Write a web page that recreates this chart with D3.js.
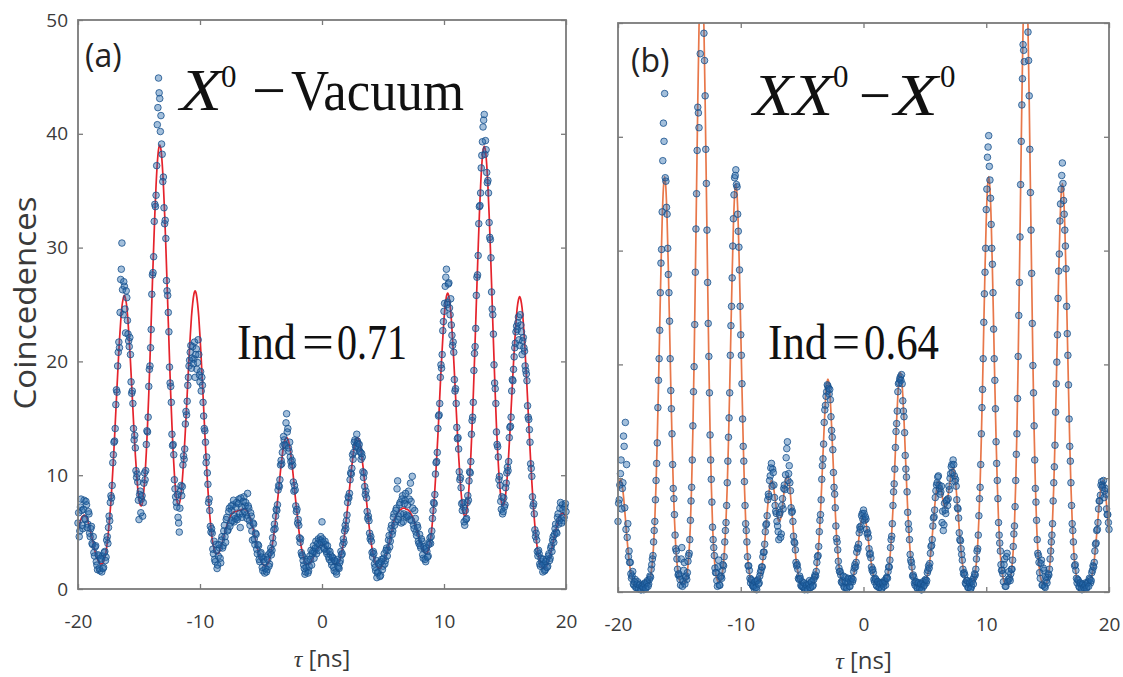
<!DOCTYPE html>
<html>
<head>
<meta charset="utf-8">
<script src="https://cdn.jsdelivr.net/npm/d3@7"></script>
<style>
  body { margin: 0; background: #fff; }
  svg { display: block; }
</style>
</head>
<body>
<svg id="chart" width="1123" height="677"></svg>
<script>
// one value per 0.1 ns, tau from -20 to 20 ns (401 values);
// the second run of each panel sits half a bin later (-19.95 ... 19.95, 400 values)
var tauStart = -20, tauStep = 0.1, tauStart2 = -19.95;

// (a) X0 - Vacuum : fit curve
var fitA = [
  5.2,5.6,6.0,6.3,6.4,6.5,6.4,6.3,6.0,5.6,        // -20
  5.2,4.7,4.3,3.8,3.3,2.9,2.6,2.4,2.2,2.2,        // -19
  2.2,2.4,2.8,3.3,4.1,5.1,6.3,7.7,9.4,11.3,       // -18
  13.4,15.6,17.8,19.9,21.9,23.5,24.8,25.5,25.8,25.5, // -17
  24.8,23.5,21.9,20.0,17.9,15.8,13.7,11.8,10.2,8.8,  // -16
  7.9,7.4,7.3,7.7,8.7,10.1,12.0,14.4,17.1,20.2,   // -15
  23.5,26.9,30.0,33.0,35.5,37.4,38.6,39.0,38.6,37.4, // -14
  35.5,33.0,30.1,26.9,23.5,20.2,17.1,14.4,12.0,10.1, // -13
  8.7,7.8,7.4,7.5,8.0,8.9,10.3,12.0,13.9,16.0,    // -12
  18.2,20.3,22.2,23.9,25.1,25.9,26.2,25.9,25.1,23.9, // -11
  22.2,20.2,18.1,15.9,13.6,11.5,9.6,7.9,6.5,5.4,  // -10
  4.4,3.8,3.4,3.1,3.1,3.1,3.3,3.6,4.0,4.4,        // -9
  4.8,5.2,5.6,5.9,6.2,6.4,6.6,6.7,6.8,6.8,        // -8
  6.8,6.9,6.9,6.9,7.0,7.0,7.0,7.0,6.9,6.8,        // -7
  6.6,6.3,5.9,5.5,5.1,4.6,4.1,3.6,3.2,2.8,        // -6
  2.5,2.3,2.1,2.0,2.0,2.1,2.3,2.6,3.1,3.7,        // -5
  4.4,5.2,6.1,7.2,8.2,9.3,10.4,11.3,12.2,12.8,    // -4
  13.2,13.3,13.2,12.8,12.2,11.3,10.4,9.3,8.2,7.2, // -3
  6.2,5.2,4.4,3.7,3.2,2.7,2.4,2.2,2.2,2.2,        // -2
  2.2,2.4,2.6,2.8,3.0,3.2,3.5,3.6,3.8,3.9,        // -1
  3.9,3.9,3.8,3.6,3.5,3.2,3.0,2.8,2.6,2.4,        // 0
  2.2,2.2,2.2,2.2,2.4,2.7,3.2,3.7,4.4,5.2,        // 1
  6.2,7.2,8.2,9.3,10.4,11.3,12.2,12.8,13.2,13.3,  // 2
  13.2,12.8,12.2,11.3,10.4,9.3,8.2,7.2,6.1,5.2,   // 3
  4.3,3.6,3.0,2.6,2.2,2.0,1.9,1.8,1.8,2.0,        // 4
  2.2,2.4,2.8,3.1,3.6,4.0,4.5,5.0,5.5,6.0,        // 5
  6.3,6.5,6.7,6.8,7.0,7.0,7.1,7.1,7.1,7.0,        // 6
  7.0,6.9,6.8,6.6,6.4,6.2,5.8,5.5,5.1,4.7,        // 7
  4.3,4.0,3.7,3.4,3.2,3.1,3.1,3.4,3.8,4.4,        // 8
  5.3,6.5,7.9,9.6,11.5,13.5,15.7,18.0,20.1,22.0,  // 9
  23.7,24.9,25.7,26.0,25.7,24.9,23.7,22.0,20.1,18.0, // 10
  15.8,13.7,11.7,10.0,8.5,7.4,6.7,6.4,6.5,7.1,    // 11
  8.2,9.8,11.7,14.2,17.0,20.1,23.4,26.7,29.9,32.9, // 12
  35.4,37.3,38.5,38.9,38.5,37.3,35.4,32.9,30.0,26.8, // 13
  23.4,20.2,17.1,14.3,12.0,10.1,8.7,7.7,7.3,7.4,  // 14
  7.9,8.8,10.1,11.8,13.7,15.8,17.9,19.9,21.8,23.4, // 15
  24.7,25.4,25.7,25.4,24.7,23.4,21.8,19.8,17.8,15.6, // 16
  13.4,11.3,9.4,7.7,6.2,5.0,4.0,3.2,2.7,2.3,      // 17
  2.0,1.8,1.8,1.9,2.0,2.3,2.6,3.0,3.4,3.9,        // 18
  4.4,4.9,5.3,5.8,6.2,6.5,6.6,6.7,6.6,6.5,        // 19
  6.2                                             // 20
];

// (a) measured coincidences, run 1
var dataA = [
  5.8,4.6,7.2,6.9,5.3,7.8,6.1,7.4,5.7,6.6,
  4.6,5.5,3.9,3.2,3.7,2.4,1.7,2.9,1.6,2.6,
  2.9,1.9,3.3,2.8,4.6,5.4,6.0,8.2,9.1,11.8,
  13.0,16.2,17.3,20.8,21.2,27.2,30.4,24.1,26.6,22.5,
  25.6,22.4,21.3,20.6,17.2,16.3,13.1,12.4,9.8,9.4,
  6.1,8.6,7.9,6.4,9.3,9.6,12.7,13.8,17.8,19.6,
  22.8,27.6,29.2,33.8,34.6,40.8,44.9,43.1,41.6,38.2,
  36.2,32.1,30.8,26.2,24.3,19.5,17.8,13.6,12.7,9.6,
  8.1,7.2,6.3,5.0,8.6,8.2,10.9,11.4,14.5,15.3,
  17.9,19.6,20.8,19.4,21.3,20.2,18.6,21.1,19.9,20.6,
  18.2,17.4,17.9,15.2,13.9,11.1,10.2,7.6,6.9,5.0,
  4.9,3.1,2.6,3.9,1.8,2.9,3.6,2.3,4.6,3.8,
  5.6,4.1,6.3,5.2,7.1,5.8,6.9,7.4,5.9,6.2,
  7.6,6.3,7.9,5.4,7.2,6.6,8.1,7.3,6.5,8.4,
  7.1,5.6,6.4,4.3,5.7,3.9,4.8,3.1,3.8,2.4,
  3.2,1.9,2.6,1.4,2.8,1.7,3.0,2.2,3.6,3.4,
  4.0,5.7,6.4,6.9,8.7,9.0,10.9,11.0,12.6,13.1,
  12.6,15.4,14.1,12.1,11.6,10.8,10.9,8.6,8.7,6.8,
  5.8,5.6,4.1,3.2,2.9,2.1,1.3,1.9,2.6,1.6,
  2.9,3.4,3.1,3.8,3.3,4.2,3.6,4.4,3.9,4.6,
  5.9,4.1,3.5,3.9,3.1,3.4,2.6,3.0,2.1,2.7,
  1.6,2.4,1.3,2.0,1.8,2.5,3.0,3.9,4.1,5.6,
  6.0,7.6,8.0,9.6,10.1,11.8,12.0,13.1,12.6,13.0,
  12.4,12.1,11.4,11.6,9.8,9.0,8.6,6.8,6.4,4.9,
  4.6,3.2,3.3,2.2,1.6,1.0,1.5,2.3,1.2,2.6,
  2.0,3.1,2.5,3.6,3.4,4.7,4.2,5.6,5.1,6.6,
  5.9,7.1,9.5,6.4,7.6,5.8,8.2,6.6,7.8,6.3,
  7.4,8.6,6.1,7.7,9.9,5.6,6.9,5.0,5.6,4.2,
  4.8,3.6,4.2,2.7,3.5,2.4,3.3,2.9,4.1,4.0,
  5.1,6.9,7.5,10.1,11.2,14.1,15.3,18.6,19.4,22.7,
  24.4,26.6,28.1,25.2,26.9,24.1,23.2,21.4,20.8,17.4,
  16.3,13.2,12.3,9.6,8.9,6.9,7.2,5.6,6.1,7.6,
  7.8,10.3,11.2,14.8,16.4,20.7,22.9,27.4,29.3,33.6,
  34.8,38.1,40.6,41.7,39.4,36.6,35.9,32.2,30.7,26.1,
  24.1,19.7,17.6,13.8,12.5,9.6,9.1,7.0,6.6,8.0,
  7.4,9.3,10.7,11.2,14.2,15.1,18.4,19.3,21.2,22.6,
  22.8,23.9,21.4,23.2,20.6,22.1,20.9,19.2,18.3,15.1,
  14.0,11.0,9.9,7.3,6.6,4.6,4.3,2.9,3.1,2.0,
  2.4,1.5,2.2,1.7,2.6,2.0,3.1,2.7,3.8,4.3,
  4.1,5.3,5.0,6.3,5.7,7.1,6.2,7.4,6.0,7.2,
  6.8
];

// (a) measured coincidences, run 2
var dataA2 = [
  6.7,5.1,7.9,5.6,7.0,6.2,7.7,5.4,6.8,4.9,
  5.3,4.0,4.6,2.9,3.8,2.1,3.0,1.8,2.7,1.5,
  1.8,3.2,2.5,4.3,4.0,6.4,7.6,8.0,11.1,12.9,
  14.1,17.5,19.6,21.7,24.3,28.1,26.3,27.0,24.6,26.2,
  23.6,21.8,22.1,18.2,17.4,14.1,13.5,10.4,10.1,7.8,
  8.3,6.7,8.2,7.6,10.2,10.4,13.9,15.1,19.3,21.2,
  25.9,27.8,32.3,33.6,37.2,42.3,43.6,40.2,39.1,35.8,
  33.5,32.4,27.1,25.8,22.6,18.1,16.4,12.6,11.8,8.8,
  7.6,8.3,5.8,7.1,9.1,9.0,11.7,12.3,15.6,16.5,
  18.6,20.1,21.4,20.3,19.8,21.7,20.6,19.3,21.9,18.8,
  19.1,18.6,16.4,14.1,12.9,11.6,9.2,7.9,5.5,5.3,
  3.5,4.2,2.4,3.4,2.1,3.9,2.7,4.3,3.6,5.1,
  4.6,6.1,5.1,6.8,5.5,7.3,6.0,7.8,6.4,7.2,
  6.1,7.5,6.6,8.0,6.3,7.7,6.8,7.6,6.2,7.3,
  6.0,6.7,5.1,5.8,4.4,4.9,3.5,3.9,2.6,3.1,
  2.8,1.6,2.4,1.8,1.5,2.6,2.0,3.2,3.0,4.5,
  5.2,5.3,7.0,7.4,9.1,9.6,11.3,12.0,13.4,12.7,
  14.6,13.8,12.4,12.9,11.2,11.3,9.4,9.1,7.3,7.0,
  6.1,4.5,4.4,3.0,2.5,1.8,1.5,2.4,1.4,2.0,
  2.6,2.1,3.3,2.7,3.6,3.1,4.0,3.4,4.3,4.1,
  4.4,3.6,4.2,3.3,3.8,2.8,3.3,2.4,2.8,1.9,
  2.5,1.5,2.6,1.9,2.3,3.3,3.1,4.4,5.1,5.3,
  6.5,8.1,8.4,10.2,10.6,11.4,12.9,12.5,13.6,12.8,
  12.7,12.0,11.9,10.3,10.2,8.3,8.0,6.2,6.0,4.4,
  4.2,2.8,3.1,1.9,2.5,1.4,2.2,1.1,2.4,1.7,
  2.7,2.2,3.4,2.9,4.3,3.7,5.3,4.8,6.3,5.6,
  6.9,8.8,6.1,7.4,6.6,7.9,5.9,7.5,8.4,6.5,
  6.4,7.9,9.3,6.0,7.1,5.3,6.2,4.7,5.4,4.0,
  3.8,4.4,3.0,3.7,2.6,3.6,2.8,3.9,4.5,4.6,
  6.2,7.6,8.3,11.1,12.0,15.2,16.3,19.7,20.6,23.5,
  25.1,27.4,25.0,26.8,24.7,25.5,22.3,21.7,18.4,17.6,
  14.2,13.3,10.3,9.8,7.5,7.6,5.9,6.9,6.2,8.2,
  9.5,10.2,13.6,15.1,19.2,21.3,25.8,27.6,32.1,33.7,
  37.0,39.3,41.2,38.2,38.6,35.7,34.8,30.9,29.1,24.6,
  22.4,18.1,16.3,12.7,11.6,9.9,7.7,8.1,6.8,7.2,
  8.9,10.2,10.4,13.3,14.3,17.4,18.3,20.4,21.6,23.1,
  23.4,21.9,24.1,22.6,21.8,21.2,19.6,18.9,16.1,14.9,
  12.9,10.6,8.1,7.5,5.2,4.9,3.3,3.4,2.2,2.7,
  2.1,2.6,1.6,2.4,1.9,2.9,2.5,3.6,3.3,4.6,
  4.8,5.7,4.9,6.6,6.0,7.6,5.8,7.0,6.3,7.5
];

// (b) XX0 - X0 : fit curve
var fitB = [
  8.9,9.6,9.9,9.6,8.9,7.8,6.5,5.1,3.9,2.8,
  2.0,1.5,1.1,0.8,0.7,0.6,0.5,0.5,0.5,0.5,
  0.5,0.5,0.5,0.6,0.6,0.8,1.1,1.7,2.6,4.1,
  6.4,9.5,13.5,18.2,23.4,28.4,32.7,35.5,36.5,35.5,
  32.7,28.4,23.4,18.2,13.5,9.5,6.4,4.1,2.6,1.7,
  1.1,0.8,0.7,0.7,0.8,1.0,1.4,2.3,3.7,6.0,
  9.5,14.2,20.3,27.6,35.4,43.1,49.6,54.0,55.5,54.0,
  49.6,43.1,35.4,27.6,20.3,14.2,9.5,6.0,3.7,2.3,
  1.4,1.0,0.9,0.9,1.1,1.7,2.6,4.1,6.3,9.3,
  13.2,17.9,23.0,27.9,32.1,34.9,35.9,34.9,32.1,27.9,
  23.0,17.9,13.2,9.3,6.3,4.1,2.6,1.7,1.1,0.8,
  0.8,0.7,0.6,0.7,0.8,1.0,1.4,2.0,2.8,3.8,
  5.0,6.3,7.6,8.7,9.5,9.8,9.6,9.0,8.2,7.3,
  6.6,6.2,6.3,6.7,7.5,8.5,9.4,10.0,10.2,9.9,
  9.1,7.9,6.6,5.2,4.0,2.9,2.1,1.5,1.1,0.8,
  0.7,0.6,0.5,0.5,0.5,0.5,0.5,0.6,0.7,0.8,
  1.1,1.6,2.3,3.5,5.0,7.1,9.5,12.1,14.6,16.8,
  18.2,18.7,18.2,16.8,14.6,12.1,9.5,7.1,5.0,3.5,
  2.3,1.6,1.1,0.8,0.7,0.6,0.6,0.6,0.6,0.7,
  0.9,1.1,1.5,2.1,2.8,3.6,4.5,5.4,6.1,6.6,
  6.8,6.6,6.1,5.4,4.5,3.6,2.8,2.1,1.5,1.1,
  0.9,0.7,0.6,0.6,0.5,0.5,0.6,0.7,0.8,1.1,
  1.6,2.4,3.6,5.2,7.3,9.8,12.4,15.1,17.3,18.8,
  19.3,18.8,17.3,15.1,12.4,9.8,7.3,5.2,3.6,2.4,
  1.6,1.1,0.8,0.7,0.6,0.6,0.5,0.5,0.6,0.7,
  0.8,1.0,1.4,2.0,2.7,3.7,4.9,6.2,7.5,8.6,
  9.3,9.7,9.6,9.1,8.5,7.9,7.5,7.4,7.8,8.5,
  9.3,10.1,10.7,10.9,10.5,9.6,8.4,7.0,5.5,4.2,
  3.0,2.2,1.5,1.1,0.8,0.7,0.6,0.6,0.7,0.8,
  1.1,1.7,2.6,4.1,6.4,9.5,13.5,18.2,23.4,28.4,
  32.7,35.5,36.5,35.5,32.7,28.4,23.4,18.2,13.5,9.5,
  6.4,4.1,2.6,1.7,1.1,0.8,0.7,0.7,0.7,1.0,
  1.4,2.3,3.7,6.0,9.5,14.2,20.3,27.6,35.4,43.1,
  49.6,54.0,55.5,54.0,49.6,43.1,35.4,27.6,20.3,14.2,
  9.5,6.0,3.7,2.3,1.4,1.0,0.7,0.7,0.7,0.8,
  1.1,1.7,2.6,4.1,6.3,9.3,13.2,17.9,23.0,27.9,
  32.1,34.9,35.9,34.9,32.1,27.9,23.0,17.9,13.2,9.3,
  6.3,4.1,2.6,1.7,1.1,0.8,0.6,0.6,0.5,0.5,
  0.5,0.5,0.6,0.7,0.8,1.1,1.4,2.0,2.8,3.9,
  5.1,6.4,7.7,8.8,9.5,9.8,9.5,8.8,7.7,6.4,
  5.1
];

// (b) measured coincidences, run 1
var dataB = [
  6.2,8.1,10.4,7.3,9.6,12.8,14.9,11.2,6.0,3.6,
  2.6,1.2,1.8,0.6,1.1,0.4,0.9,0.3,0.7,0.2,
  0.6,0.2,0.8,0.4,1.0,0.7,1.4,2.0,2.9,4.4,
  6.2,9.8,13.1,18.6,23.0,28.9,33.4,41.2,43.8,36.1,
  33.2,27.9,23.8,17.7,13.9,9.1,6.8,3.8,2.9,1.5,
  1.4,0.6,3.9,0.9,2.6,1.3,1.1,2.7,3.4,6.3,
  9.2,14.6,19.8,28.1,35.0,42.6,40.8,47.3,54.8,53.2,
  49.1,43.6,35.9,27.2,20.7,13.8,9.9,5.7,3.9,2.1,
  1.7,0.5,2.8,0.6,1.4,1.9,2.3,4.4,6.1,9.6,
  13.6,17.5,23.4,27.6,32.8,36.4,37.1,35.6,31.7,28.3,
  22.6,18.3,12.8,9.7,6.0,4.4,2.3,1.9,0.8,1.0,
  0.5,0.3,0.9,0.2,1.1,0.8,1.7,2.2,3.1,3.5,
  5.3,6.0,8.1,8.4,10.2,11.3,10.8,9.4,7.6,6.9,
  5.8,4.6,7.0,5.1,8.2,9.1,9.0,11.8,13.2,10.4,
  9.6,7.4,7.1,4.9,4.3,2.6,2.4,1.2,1.4,0.6,
  0.9,0.4,0.2,0.7,0.3,0.6,1.0,0.4,0.9,0.6,
  1.3,1.4,2.6,3.2,5.3,6.8,9.9,11.7,14.9,16.4,
  17.6,18.1,17.4,16.9,14.2,12.5,9.2,7.4,4.7,3.7,
  2.1,1.8,0.9,1.0,0.5,1.3,0.4,0.8,1.1,0.5,
  1.2,0.9,1.8,2.4,2.6,3.9,4.2,5.7,5.8,6.9,
  7.2,6.3,6.4,5.1,4.8,3.3,3.0,1.9,1.7,0.9,
  1.1,0.5,0.9,0.4,0.8,0.3,0.7,1.0,0.6,1.3,
  1.8,2.2,3.9,4.9,7.6,9.5,12.7,14.8,17.6,18.4,
  18.9,19.1,16.8,15.4,12.0,10.1,7.0,5.5,3.3,2.6,
  1.4,1.3,0.6,0.9,0.3,0.8,0.4,0.2,0.7,0.5,
  1.0,0.8,1.7,2.3,2.5,4.0,4.6,6.5,7.2,8.9,
  9.6,10.2,9.1,8.8,6.1,5.4,7.8,6.9,8.1,8.2,
  9.0,10.4,11.2,11.6,10.2,9.9,8.1,7.3,5.2,4.5,
  3.3,2.0,1.7,0.8,1.0,0.4,0.9,0.3,0.5,1.1,
  1.3,1.5,2.9,3.8,6.7,9.2,13.9,17.8,23.7,28.1,
  33.6,38.2,40.1,36.2,32.3,28.8,23.1,18.6,13.2,9.8,
  6.1,4.3,2.4,1.9,0.9,2.9,0.5,3.4,1.1,1.2,
  1.6,2.0,4.0,5.8,9.8,13.9,20.7,27.2,35.8,42.8,
  48.1,46.6,54.9,53.5,49.2,43.6,35.1,28.0,19.9,14.6,
  9.1,6.3,3.4,2.6,1.2,2.8,0.6,1.9,0.4,1.0,
  1.3,1.5,2.9,4.4,6.0,9.6,12.9,18.3,22.6,28.2,
  32.6,35.4,37.7,34.4,31.8,28.4,22.7,18.2,12.8,9.6,
  6.0,4.4,2.3,1.9,0.8,1.0,0.4,0.7,0.2,0.6,
  0.3,0.8,0.4,0.9,1.2,0.8,1.7,2.3,2.6,4.2,
  5.4,6.1,8.0,8.5,9.7,9.4,8.3,9.1,7.3,6.8,
  5.5
];

// (b) measured coincidences, run 2
var dataB2 = [
  7.8,9.4,11.6,9.1,13.7,7.4,5.5,4.8,3.1,2.6,
  1.6,1.4,0.7,0.9,0.4,0.7,0.3,0.6,0.2,0.5,
  0.4,0.7,0.3,0.8,0.5,1.1,1.3,2.4,3.2,5.4,
  8.1,11.3,16.2,20.5,26.3,30.1,37.9,39.6,36.4,33.8,
  30.2,26.3,20.5,16.1,11.2,8.2,5.0,3.6,2.0,1.6,
  1.1,2.9,0.5,1.9,0.7,1.4,1.7,3.2,4.6,8.0,
  11.6,17.6,23.5,31.9,38.8,42.1,51.3,54.3,55.1,51.4,
  46.7,38.9,31.8,23.6,17.5,11.6,7.9,4.6,3.2,1.7,
  1.0,2.2,0.6,1.3,1.2,2.4,3.1,5.4,7.6,11.5,
  15.3,20.8,25.1,30.4,34.9,36.6,35.8,33.2,30.3,25.1,
  20.8,15.2,11.5,7.6,5.4,3.1,2.3,1.2,1.1,0.6,
  0.5,0.9,0.4,1.0,0.7,1.4,1.9,2.2,3.5,4.2,
  5.9,6.7,8.6,9.8,10.9,9.3,10.5,8.3,7.1,6.2,
  5.3,6.8,4.8,7.6,7.3,9.4,10.3,12.6,9.8,11.1,
  8.9,7.0,6.2,4.4,3.7,2.3,2.0,1.1,1.2,0.5,
  0.5,0.8,0.3,0.6,0.2,0.7,0.4,0.9,0.5,1.1,
  1.5,1.8,3.1,4.0,6.3,8.1,11.1,13.0,16.0,17.2,
  18.2,17.9,17.8,15.4,13.6,10.5,8.6,5.8,4.4,2.7,
  1.8,1.5,0.8,1.4,0.4,0.9,0.3,1.2,0.5,0.9,
  1.2,1.1,2.1,2.2,3.5,3.8,5.2,5.5,6.7,6.4,
  6.9,6.6,5.5,5.2,3.8,3.4,2.2,2.0,1.1,1.2,
  0.6,0.9,0.4,0.7,0.3,0.8,0.5,0.9,1.2,1.2,
  2.2,2.8,4.6,6.0,8.8,10.8,14.1,15.9,18.3,18.7,
  18.6,18.3,15.9,14.0,10.8,8.8,6.0,4.6,2.8,2.2,
  1.5,0.8,0.9,0.4,0.8,0.3,0.7,0.2,0.9,0.6,
  1.1,1.0,1.9,2.1,3.4,4.1,5.8,6.6,8.3,9.4,
  10.1,9.4,8.6,9.3,7.1,5.9,7.2,8.0,7.6,9.3,
  10.0,11.0,10.5,11.2,9.7,9.3,7.4,6.5,4.6,3.8,
  2.8,1.6,1.5,0.7,1.0,0.4,0.8,0.3,0.9,0.7,
  1.6,2.0,3.6,5.0,8.2,11.2,16.2,20.5,26.2,30.2,
  35.4,39.1,37.4,34.6,30.2,26.3,20.5,16.1,11.3,8.2,
  5.0,3.6,1.9,1.6,2.4,0.5,3.1,0.9,1.8,1.0,
  2.0,2.8,5.1,7.5,12.1,17.0,24.3,31.2,39.6,45.1,
  47.6,54.4,54.9,51.5,46.7,38.9,31.8,23.6,17.5,11.6,
  7.9,4.6,3.2,1.7,2.5,0.6,2.1,0.5,1.3,0.8,
  1.6,2.0,3.6,5.0,8.0,11.0,15.8,20.2,25.8,29.7,
  34.1,36.6,35.9,33.2,30.4,25.1,20.8,15.2,11.5,7.6,
  5.4,3.1,2.4,1.2,1.1,0.5,0.8,0.3,0.7,0.4,
  0.6,0.3,0.8,0.5,1.1,1.0,1.9,2.2,3.6,4.3,
  5.5,7.3,8.0,9.4,9.2,9.8,8.9,8.6,6.8,6.1
];

var xTicks = [-20, -10, 0, 10, 20];
var yTicks = [0, 10, 20, 30, 40, 50];
var indValues = ['0.71', '0.64'];

var sans = "'Open Sans', 'Noto Sans', sans-serif",
    serif = "'Liberation Serif', 'Times New Roman', serif";

var svg = d3.select('#chart');

var panels = [
  { key: 'a', fit: fitA, runs: [dataA, dataA2], x0: 78, x1: 566, y0: 589, y1: 20,
    line: '#e5232c', yLabels: true, xLabelY: 667 },
  { key: 'b', fit: fitB, runs: [dataB, dataB2], x0: 618, x1: 1109, y0: 592, y1: 23,
    line: '#e8774a', yLabels: false, xLabelY: 669 }
];

panels.forEach(function(p) {
  var x = d3.scaleLinear().domain([-20, 20]).range([p.x0, p.x1]),
      y = d3.scaleLinear().domain([0, 50]).range([p.y0, p.y1]);

  var g = svg.append('g').attr('class', 'panel-' + p.key);

  g.append('clipPath')
    .attr('id', 'clip-' + p.key)
    .append('rect')
    .attr('x', p.x0 - 4)
    .attr('y', p.y1)
    .attr('width', p.x1 - p.x0 + 8)
    .attr('height', p.y0 - p.y1 + 4);

  var plot = g.append('g').attr('clip-path', 'url(#clip-' + p.key + ')');

  var line = d3.line()
    .x(function(d, i) { return x(tauStart + i * tauStep); })
    .y(function(d) { return y(d); })
    .curve(d3.curveMonotoneX);

  plot.append('path')
    .datum(p.fit)
    .attr('d', line)
    .attr('fill', 'none')
    .attr('stroke', p.line)
    .attr('stroke-width', 1.7);

  p.runs.forEach(function(run, r) {
    var t0 = r === 0 ? tauStart : tauStart2;
    plot.append('g')
      .selectAll('circle')
      .data(run)
      .enter().append('circle')
      .attr('cx', function(d, i) { return x(t0 + i * tauStep); })
      .attr('cy', function(d) { return y(d); })
      .attr('r', 3.3)
      .attr('fill', '#2466aa')
      .attr('fill-opacity', 0.42)
      .attr('stroke', '#17508c')
      .attr('stroke-opacity', 0.8)
      .attr('stroke-width', 1);
  });

  // box + inward ticks on all four sides
  var axes = [
    { a: d3.axisBottom(x).tickValues(xTicks), t: 'translate(0,' + p.y0 + ')', labels: true },
    { a: d3.axisTop(x).tickValues(xTicks), t: 'translate(0,' + p.y1 + ')', labels: false },
    { a: d3.axisLeft(y).tickValues(yTicks), t: 'translate(' + p.x0 + ',0)', labels: p.yLabels },
    { a: d3.axisRight(y).tickValues(yTicks), t: 'translate(' + p.x1 + ',0)', labels: false }
  ];
  axes.forEach(function(ax, k) {
    ax.a.tickSizeInner(-5).tickSizeOuter(0).tickPadding(k === 0 ? 26 : 10);
    ax.a.tickFormat(ax.labels ? function(d) { return String(d); } : '');
    var ag = g.append('g').attr('transform', ax.t).call(ax.a);
    ag.select('.domain').remove();
    ag.selectAll('.tick line').attr('stroke', '#7a7a7a').attr('stroke-width', 1.3);
    ag.selectAll('.tick text')
      .attr('fill', '#3a3a3a')
      .style('font-family', sans)
      .style('font-size', '19px');
  });

  g.append('rect')
    .attr('x', p.x0)
    .attr('y', p.y1)
    .attr('width', p.x1 - p.x0)
    .attr('height', p.y0 - p.y1)
    .attr('fill', 'none')
    .attr('stroke', '#7a7a7a')
    .attr('stroke-width', 1.8);

  // x label
  var xl = g.append('text')
    .attr('x', x(0))
    .attr('y', p.xLabelY)
    .attr('text-anchor', 'middle')
    .attr('fill', '#3a3a3a')
    .style('font-size', '24px');
  xl.append('tspan').style('font-family', serif).style('font-style', 'italic').text('τ');
  xl.append('tspan').style('font-family', sans).text(' [ns]');
});

// y label
svg.append('text')
  .attr('transform', 'translate(36,303) rotate(-90)')
  .attr('text-anchor', 'middle')
  .attr('fill', '#3a3a3a')
  .attr('textLength', 213)
  .attr('lengthAdjust', 'spacingAndGlyphs')
  .style('font-family', sans)
  .style('font-size', '31px')
  .text('Coincedences');

// panel tags
svg.append('text').attr('x', 85).attr('y', 67)
  .style('font-family', sans).style('font-size', '32px').attr('fill', '#222').text('(a)');
svg.append('text').attr('x', 631).attr('y', 72)
  .style('font-family', sans).style('font-size', '32px').attr('fill', '#222').text('(b)');

// titles
function serifText(txt, xPos, yPos, size, italic, len) {
  var t = svg.append('text')
    .attr('x', xPos)
    .attr('y', yPos)
    .attr('fill', '#111')
    .style('font-family', serif)
    .style('font-size', size + 'px')
    .style('font-style', italic ? 'italic' : 'normal')
    .text(txt);
  if (len) t.attr('textLength', len).attr('lengthAdjust', 'spacingAndGlyphs');
  return t;
}

serifText('X', 180, 110, 60, true, 42);
serifText('0', 221, 87, 31, false);
serifText('\u2212', 252, 110, 58, false, 34);
serifText('Vacuum', 291, 110, 58, false, 173);

serifText('XX', 753, 115, 60, true, 80);
serifText('0', 833, 87, 31, false);
serifText('\u2212', 859, 115, 58, false, 32);
serifText('X', 894, 115, 60, true, 44);
serifText('0', 940, 87, 31, false);

// indistinguishability
serifText('Ind', 237, 359, 50, false, 59);
serifText('=', 302, 359, 50, false, 32);
serifText(indValues[0], 337, 359, 50, false, 70);

serifText('Ind', 768, 359, 50, false, 59);
serifText('=', 832, 359, 50, false, 28);
serifText(indValues[1], 864, 359, 50, false, 75);
</script>
</body>
</html>
